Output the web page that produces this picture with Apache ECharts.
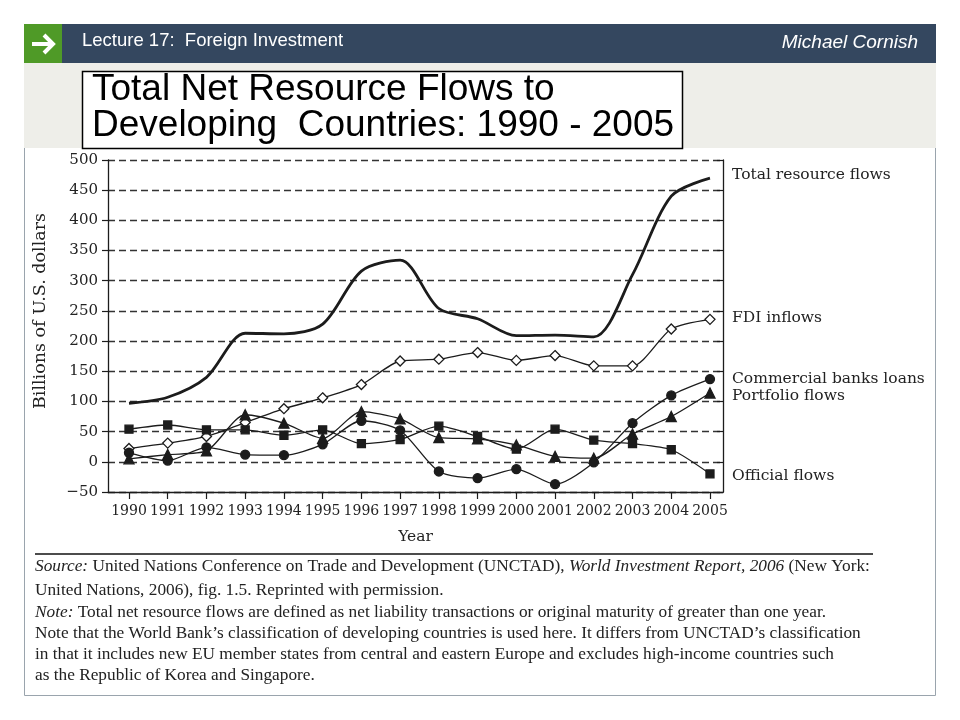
<!DOCTYPE html>
<html><head><meta charset="utf-8">
<script src="https://cdn.jsdelivr.net/npm/echarts@6/dist/echarts.min.js"></script>
<style>html,body{margin:0;padding:0;background:#fff}#c{width:960px;height:720px}</style>
</head><body><div id="c"></div>
<script>
const years = [1990,1991,1992,1993,1994,1995,1996,1997,1998,1999,2000,2001,2002,2003,2004,2005];
const totalFlows     = [97,107,140,213,212,228,316,334,254,237,209,210,207,310,440,470];
const fdiInflows     = [22,31,42,65,88,106,128,167,170,181,168,176,159,159,220,236];
const bankLoans      = [15,2,24,12,11,29,68,52,-16,-27,-12,-37,-1,64,110,137];
const portfolioFlows = [5,12,18,78,64,39,83,71,40,38,28,9,6,46,75,114];
const officialFlows  = [54,61,53,53,44,53,30,37,59,42,21,54,36,30,20,-20];
const seriesNames = ['Total resource flows','FDI inflows','Commercial banks loans','Portfolio flows','Official flows'];

const SERIF = 'DejaVu Serif';
const FOOT = 'Liberation Serif';
const pairs = arr => arr.map((v, i) => [years[i], v]);
const ink = '#1c1c1c';

const chart = echarts.init(document.getElementById('c'), null, {renderer: 'canvas'});

const thin = (name, data, symbol, size, fill) => ({
  name, type: 'line', data: pairs(data), smooth: 0.25,
  symbol, symbolSize: size, showSymbol: true,
  lineStyle: {color: ink, width: 1.3},
  itemStyle: {color: fill, borderColor: ink, borderWidth: 1.3},
  z: 5
});

const footLines = [
  '{i|Source:} United Nations Conference on Trade and Development (UNCTAD), {i|World Investment Report, 2006} (New York:',
  'United Nations, 2006), fig. 1.5. Reprinted with permission.',
  '{i|Note:} Total net resource flows are defined as net liability transactions or original maturity of greater than one year.',
  'Note that the World Bank\u2019s classification of developing countries is used here. It differs from UNCTAD\u2019s classification',
  'in that it includes new EU member states from central and eastern Europe and excludes high-income countries such',
  'as the Republic of Korea and Singapore.'
];
const footY = [566, 590, 612, 633, 654, 675];
const FS = 17.3;

const graphics = [
  {type: 'rect', z: -10, shape: {x: 24.5, y: 24.5, width: 911, height: 671}, style: {fill: '#fff', stroke: '#9aa4ad', lineWidth: 1}},
  {type: 'rect', z: -9, shape: {x: 24, y: 24, width: 912, height: 39}, style: {fill: '#34475f'}},
  {type: 'rect', z: -8, shape: {x: 24, y: 24, width: 38, height: 39}, style: {fill: '#4f9a27'}},
  {type: 'rect', z: -9, shape: {x: 24, y: 63, width: 912, height: 85}, style: {fill: '#eeeee9'}},
  {type: 'polyline', z: -7, shape: {points: [[32, 44], [53, 44]]}, style: {stroke: '#fff', lineWidth: 4}},
  {type: 'polyline', z: -7, shape: {points: [[44, 35], [53, 44], [44, 53]]}, style: {stroke: '#fff', lineWidth: 4, fill: null}},
  {type: 'text', z: 10, x: 82, y: 41, style: {text: 'Lecture 17:  Foreign Investment', fill: '#fff', font: '18.5px "Liberation Sans"', verticalAlign: 'middle'}},
  {type: 'text', z: 10, x: 918, y: 43, style: {text: 'Michael Cornish', fill: '#fff', font: 'italic 19px "Liberation Sans"', align: 'right', verticalAlign: 'middle'}},
  {type: 'rect', z: -6, shape: {x: 82.5, y: 71.5, width: 600, height: 77}, style: {fill: '#fff', stroke: '#000', lineWidth: 1.5}},
  {type: 'text', z: 10, x: 92, y: 90, style: {text: 'Total Net Resource Flows to', fill: '#000', font: '37px "Liberation Sans"', verticalAlign: 'middle'}},
  {type: 'text', z: 10, x: 92, y: 126, style: {text: 'Developing  Countries: 1990 - 2005', fill: '#000', font: '37px "Liberation Sans"', verticalAlign: 'middle'}},
  {type: 'line', z: 10, shape: {x1: 35, y1: 554, x2: 873, y2: 554}, style: {stroke: '#111', lineWidth: 1.6}},
  {type: 'text', z: 10, x: 40, y: 311, rotation: Math.PI / 2,
    style: {text: 'Billions of U.S. dollars', fill: '#222', font: '17.5px "DejaVu Serif"', align: 'center', verticalAlign: 'middle'}}
];
footLines.forEach((t, i) => graphics.push({
  type: 'text', z: 10, x: 35, y: footY[i],
  style: {text: t, fill: '#222', fontFamily: FOOT, fontSize: FS, verticalAlign: 'middle',
    rich: {i: {fontStyle: 'italic', fontFamily: FOOT, fontSize: FS, fill: '#222'}}}
}));
const labelY = [175, 318, 379, 396, 476];
seriesNames.forEach((n, i) => graphics.push({
  type: 'text', z: 10, x: 732, y: labelY[i],
  style: {text: n, fill: '#222', font: '15.5px "DejaVu Serif"', verticalAlign: 'middle'}
}));

chart.setOption({
  backgroundColor: 'transparent',
  animation: false,
  grid: {left: 108, right: 237, top: 160, bottom: 228, containLabel: false},
  xAxis: {
    type: 'value', min: 1989.458, max: 2005.336,
    axisLine: {show: true, onZero: false, lineStyle: {color: ink, width: 1.3}},
    axisTick: {show: true, length: 7, customValues: years, lineStyle: {color: ink, width: 1.2}},
    axisLabel: {customValues: years, showMinLabel: true, showMaxLabel: true, hideOverlap: false,
      formatter: v => String(Math.round(v)),
      fontFamily: SERIF, fontSize: 14, color: '#222', margin: 12},
    splitLine: {show: false},
    name: 'Year', nameLocation: 'middle', nameGap: 37,
    nameTextStyle: {fontFamily: SERIF, fontSize: 15.5, color: '#222'}
  },
  yAxis: [{
    type: 'value', min: -50, max: 500, interval: 50,
    axisLine: {show: true, lineStyle: {color: ink, width: 1.3}},
    axisTick: {show: true, length: 6, lineStyle: {color: ink, width: 1.2}},
    axisLabel: {fontFamily: SERIF, fontSize: 15, color: '#222', margin: 10,
      formatter: v => v < 0 ? '\u2212' + Math.abs(v) : String(v)},
    splitLine: {show: true, lineStyle: {color: '#333', width: 1.4, type: [7, 4]}}
  }, {
    type: 'value', min: -50, max: 500, interval: 50, position: 'right',
    axisLine: {show: true, lineStyle: {color: ink, width: 1.3}},
    axisTick: {show: true, inside: true, length: 6, lineStyle: {color: ink, width: 1.2}},
    axisLabel: {show: false}, splitLine: {show: false}
  }],
  graphic: graphics,
  series: [
    {name: seriesNames[0], type: 'line', data: pairs(totalFlows), smooth: 0.3, showSymbol: false, symbol: 'none',
      lineStyle: {color: ink, width: 2.8}, z: 6},
    thin(seriesNames[1], fdiInflows, 'diamond', 10, '#fff'),
    thin(seriesNames[2], bankLoans, 'circle', 9, ink),
    thin(seriesNames[3], portfolioFlows, 'triangle', 10, ink),
    thin(seriesNames[4], officialFlows, 'rect', 8, ink)
  ]
});
</script></body></html>
